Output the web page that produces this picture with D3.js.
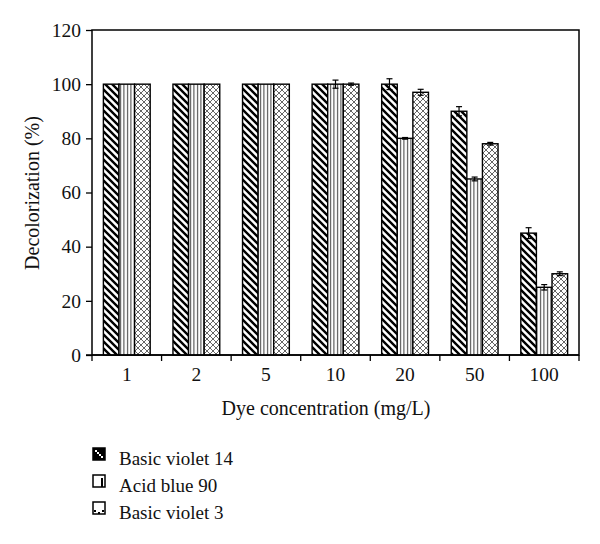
<!DOCTYPE html>
<html><head><meta charset="utf-8">
<script src="https://cdn.jsdelivr.net/npm/d3@7"></script>
<style>body{margin:0;background:#fff}</style>
</head><body><svg id="c" width="600" height="544"></svg>
<script>
const categories = ["1","2","5","10","20","50","100"];
const seriesNames = ["Basic violet 14","Acid blue 90","Basic violet 3"];
const bv14 = [100,100,100,100,100,90,45];
const ab90 = [100,100,100,100,80,65,25];
const bv3  = [100,100,100,100,97,78,30];
const bv14Err = [0,0,0,0,2,1.7,2];
const ab90Err = [0,0,0,1.5,0.3,0.7,1];
const bv3Err  = [0,0,0,0.4,1.1,0.5,0.7];
const yTicks = [0,20,40,60,80,100,120];

const FONT = '"Liberation Serif","DejaVu Serif","Times New Roman",serif';
const values = [bv14, ab90, bv3];
const errs = [bv14Err, ab90Err, bv3Err];
const svg = d3.select("#c");
const L=92, R=579, T=30, B=355;

const defs = svg.append("defs");
const p1 = defs.append("pattern").attr("id","hatch").attr("patternUnits","userSpaceOnUse").attr("width",7).attr("height",7);
p1.append("rect").attr("width",7).attr("height",7).attr("fill","#fff");
p1.append("path").attr("d","M0,0L7,7M-1,6L1,8M6,-1L8,1").attr("stroke","#000").attr("stroke-width",2.4);
const p2 = defs.append("pattern").attr("id","vert").attr("patternUnits","userSpaceOnUse").attr("width",3.5).attr("height",4);
p2.append("rect").attr("width",3.5).attr("height",4).attr("fill","#fff");
p2.append("line").attr("x1",1.5).attr("x2",1.5).attr("y1",0).attr("y2",4).attr("stroke","#222").attr("stroke-width",0.9);
const p3 = defs.append("pattern").attr("id","cross").attr("patternUnits","userSpaceOnUse").attr("width",6).attr("height",6);
p3.append("rect").attr("width",6).attr("height",6).attr("fill","#fff");
p3.append("path").attr("d","M0,0L6,6M6,0L0,6").attr("stroke","#555").attr("stroke-width",0.9);
const fills = ["url(#hatch)","url(#vert)","url(#cross)"];

const x = d3.scaleBand().domain(categories).range([L,R]).paddingInner(0).paddingOuter(0);
const xs = d3.scaleBand().domain(d3.range(3)).range([0,x.bandwidth()]).paddingInner(0).paddingOuter(0.73);
const y = d3.scaleLinear().domain([0,120]).range([B,T]);

svg.append("rect").attr("x",L).attr("y",T).attr("width",R-L).attr("height",B-T).attr("fill","none").attr("stroke","#000").attr("stroke-width",1.5);

values.forEach((vals,si)=>{
  const g = svg.append("g");
  g.selectAll("rect").data(vals).join("rect")
    .attr("x",(d,i)=>x(categories[i])+xs(si))
    .attr("y",d=>y(d))
    .attr("width",xs.bandwidth())
    .attr("height",d=>y(0)-y(d))
    .attr("fill",fills[si]).attr("stroke","#000").attr("stroke-width",1.4);
  vals.forEach((v,i)=>{
    const e = errs[si][i]; if(!e) return;
    const cx = x(categories[i])+xs(si)+xs.bandwidth()/2;
    const eg = svg.append("g").attr("stroke","#000").attr("stroke-width",1.2);
    eg.append("line").attr("x1",cx).attr("x2",cx).attr("y1",y(v+e)).attr("y2",y(v-e));
    eg.append("line").attr("x1",cx-3).attr("x2",cx+3).attr("y1",y(v+e)).attr("y2",y(v+e));
    eg.append("line").attr("x1",cx-3).attr("x2",cx+3).attr("y1",y(v-e)).attr("y2",y(v-e));
  });
});

const ya = svg.append("g").attr("transform",`translate(${L},0)`)
  .call(d3.axisLeft(y).tickValues(yTicks).tickSize(6).tickPadding(5));
ya.attr("font-family",FONT).attr("font-size",19.5);
ya.select(".domain").remove();
ya.selectAll("line").attr("stroke","#000").attr("stroke-width",1.3);
ya.selectAll("text").attr("fill","#111");

const xa = svg.append("g").attr("transform",`translate(0,${B})`)
  .call(d3.axisBottom(x).tickSize(0).tickPadding(12));
xa.attr("font-family",FONT).attr("font-size",19.5);
xa.select(".domain").attr("stroke","#000").attr("stroke-width",1.5).attr("d",`M${L-6},0H${R}`);
xa.selectAll("text").attr("fill","#111");
svg.append("g").selectAll("line").data(categories.concat(["end"])).join("line")
  .attr("x1",(d,i)=>L+i*x.step()).attr("x2",(d,i)=>L+i*x.step())
  .attr("y1",B).attr("y2",B+6).attr("stroke","#000").attr("stroke-width",1.3);

svg.append("text").attr("x",326).attr("y",415).attr("text-anchor","middle")
  .attr("font-family",FONT).attr("font-size",20).attr("fill","#111").text("Dye concentration (mg/L)");
svg.append("text").attr("transform","translate(39,193) rotate(-90)").attr("text-anchor","middle")
  .attr("font-family",FONT).attr("font-size",20).attr("fill","#111").text("Decolorization (%)");

const ly = [459,486,513];
seriesNames.forEach((n,i)=>{
  const g = svg.append("g").attr("transform",`translate(93,${ly[i]-11})`);
  g.append("rect").attr("width",12).attr("height",12).attr("fill","#fff").attr("stroke","#000").attr("stroke-width",1.5);
  if(i===0){
    g.append("rect").attr("width",12).attr("height",12).attr("fill","#000");
    g.append("path").attr("d","M2,2L4,2L4,4L6,4L6,6L8,6L8,8L10,8L10,10L8,10L8,8L6,8L6,6L4,6L4,4L2,4Z").attr("fill","#fff");
  } else if(i===1){
    g.append("line").attr("x1",9).attr("x2",9).attr("y1",3).attr("y2",12).attr("stroke","#000").attr("stroke-width",2);
  } else {
    g.append("path").attr("d","M1,8h2v2h-2zM5,10h2v2h-2zM9,8h2v2h-2z").attr("fill","#000");
  }
  svg.append("text").attr("x",119).attr("y",ly[i]+6)
    .attr("font-family",FONT).attr("font-size",19).attr("fill","#111").text(n);
});
</script></body></html>
